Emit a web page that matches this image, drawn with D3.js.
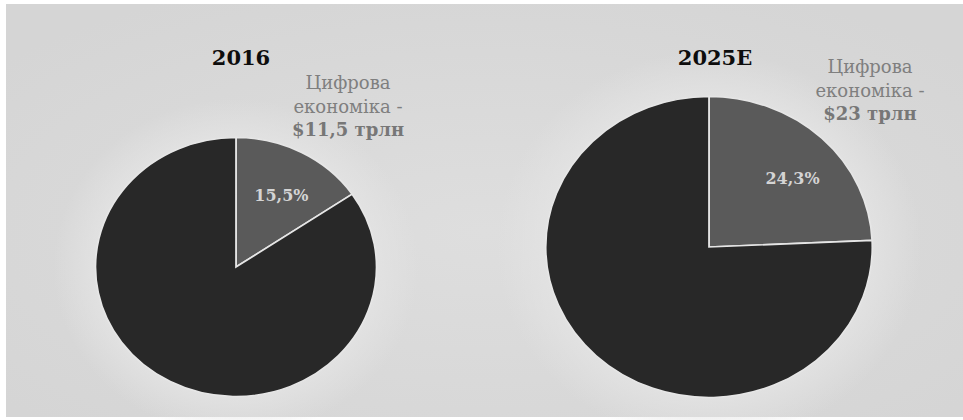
<!DOCTYPE html>
<html>
<head>
<meta charset="utf-8">
<script src="https://cdn.jsdelivr.net/npm/d3@7"></script>
<style>
  html, body { margin: 0; padding: 0; background: #ffffff; }
  svg { display: block; }
</style>
</head>
<body>
<svg id="chart" width="963" height="420"></svg>
<script>
// ---- data ----
const years = ["2016", "2025E"];
const digitalShare = [15.5, 24.3];          // % of world economy
const digitalLabelLines = ["Цифрова", "економіка -"];
const digitalValue = ["$11,5 трлн", "$23 трлн"];
const pctLabels = ["15,5%", "24,3%"];

// ---- layout ----
const W = 963, H = 420;
const layout = [
  { cx: 236, cy: 267, r: 129.5, titleY: 65, labelX: 348, labelY: 89, pctDx: 2, pctDy: 5 },
  { cx: 709, cy: 247, r: 150.5, titleY: 65, labelX: 870, labelY: 73, pctDx: 9, pctDy: 4 }
];
const titleX = [241, 715];
const sx = 1.085; // horizontal stretch of the picture
const serif = "'DejaVu Serif', 'Liberation Serif', serif";

const svg = d3.select("#chart");
const defs = svg.append("defs");
const bg = defs.append("radialGradient").attr("id", "bg")
  .attr("cx", "50%").attr("cy", "55%").attr("r", "65%");
bg.append("stop").attr("offset", "0%").attr("stop-color", "#dedede");
bg.append("stop").attr("offset", "100%").attr("stop-color", "#d5d5d5");

const glow = defs.append("radialGradient").attr("id", "glow");
glow.append("stop").attr("offset", "72%").attr("stop-color", "#e3e3e3").attr("stop-opacity", 1);
glow.append("stop").attr("offset", "100%").attr("stop-color", "#e3e3e3").attr("stop-opacity", 0);

svg.append("rect").attr("x", 6).attr("y", 4).attr("width", W - 6).attr("height", 413)
  .attr("fill", "url(#bg)");

const pie = d3.pie().sort(null).value(d => d);
const colors = ["#5a5a5a", "#282828"];

years.forEach((yr, i) => {
  const L = layout[i];
  const share = digitalShare[i];
  const arcs = pie([share, 100 - share]);

  // soft halo
  svg.append("ellipse")
    .attr("cx", L.cx).attr("cy", L.cy)
    .attr("rx", L.r * sx * 1.3).attr("ry", L.r * 1.3)
    .attr("fill", "url(#glow)");

  const g = svg.append("g")
    .attr("transform", `translate(${L.cx},${L.cy}) scale(${sx},1)`);

  const arc = d3.arc().innerRadius(0).outerRadius(L.r);
  g.selectAll("path").data(arcs).enter().append("path")
    .attr("d", arc)
    .attr("fill", (d, j) => colors[j])
    .attr("stroke", "#e6e6e6")
    .attr("stroke-width", 1.6)
    .attr("stroke-linejoin", "miter");

  // percent label
  const labelArc = d3.arc().innerRadius(L.r * 0.66).outerRadius(L.r * 0.66);
  const c = labelArc.centroid(arcs[0]);
  svg.append("text")
    .attr("x", L.cx + c[0] * sx + L.pctDx)
    .attr("y", L.cy + c[1] + L.pctDy)
    .attr("text-anchor", "middle")
    .attr("dominant-baseline", "middle")
    .attr("font-family", serif)
    .attr("font-weight", "bold")
    .attr("font-size", 16)
    .attr("fill", "#d4d4d4")
    .text(pctLabels[i]);

  // title
  svg.append("text")
    .attr("x", titleX[i]).attr("y", L.titleY)
    .attr("text-anchor", "middle")
    .attr("font-family", serif)
    .attr("font-weight", "bold")
    .attr("font-size", 21)
    .attr("fill", "#0d0d0d")
    .text(yr);

  // category label
  const t = svg.append("text")
    .attr("text-anchor", "middle")
    .attr("font-family", serif)
    .attr("font-size", 18)
    .attr("fill", "#7f7f7f");
  digitalLabelLines.forEach((line, k) => {
    t.append("tspan").attr("x", L.labelX).attr("y", L.labelY + k * 23.5).text(line);
  });
  t.append("tspan").attr("x", L.labelX).attr("y", L.labelY + 2 * 23.5)
    .attr("font-weight", "bold").attr("fill", "#777777").text(digitalValue[i]);
});
</script>
</body>
</html>
